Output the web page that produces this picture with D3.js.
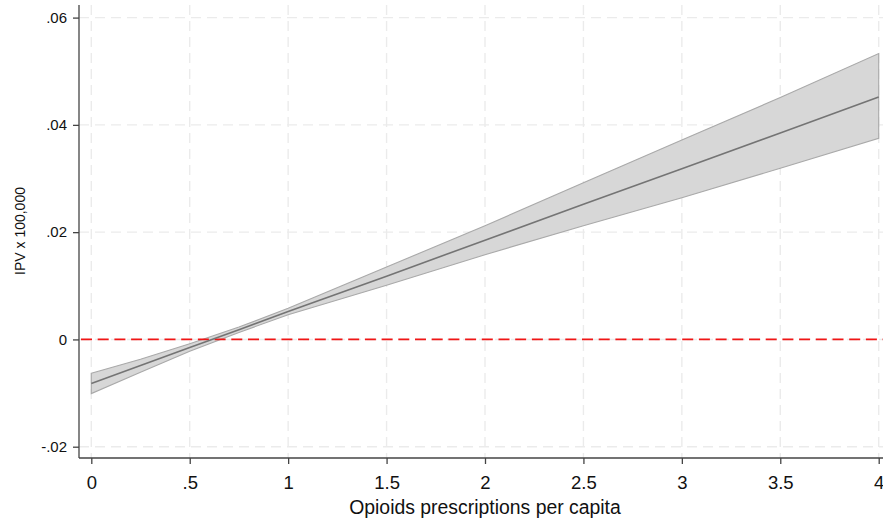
<!DOCTYPE html>
<html><head><meta charset="utf-8">
<script src="https://cdn.jsdelivr.net/npm/d3@7"></script>
<style>body{margin:0;background:#fff}svg{display:block}text{font-family:"Liberation Sans",Arial,sans-serif;fill:#111}</style>
</head><body>
<script>
const xs      = [0, 0.25, 0.5, 0.75, 1, 1.5, 2, 2.5, 3, 3.5, 4];
const center  = [-0.0082, -0.00486, -0.0015, 0.0018, 0.0052, 0.0118, 0.0185, 0.0252, 0.0318, 0.0385, 0.0452];
const upper   = [-0.0063, -0.0037, -0.0008, 0.0023, 0.0058, 0.0135, 0.0212, 0.0292, 0.0372, 0.0451, 0.0533];
const lower   = [-0.0101, -0.0061, -0.0022, 0.0013, 0.0046, 0.0101, 0.0158, 0.0212, 0.0264, 0.0319, 0.0375];
const xTicks  = [0, 0.5, 1, 1.5, 2, 2.5, 3, 3.5, 4];
const xTickLabels = ["0", ".5", "1", "1.5", "2", "2.5", "3", "3.5", "4"];
const yTicks  = [-0.02, 0, 0.02, 0.04, 0.06];
const yTickLabels = ["-.02", "0", ".02", ".04", ".06"];
const xTitle = "Opioids prescriptions per capita";
const yTitle = "IPV x 100,000";

(function () {
const W = 883, H = 523;
const svg = d3.select("body").append("svg").attr("width", W).attr("height", H);
const x = d3.scaleLinear().domain([0, 4]).range([91.3, 878.7]);
const y = d3.scaleLinear().domain([-0.02, 0.06]).range([446.7, 17.6]);
const pLeft = 79, pTop = 5, pBottom = 458, pRight = 900;

// grid
const g = svg.append("g");
g.selectAll(".vg").data(xTicks).join("line")
  .attr("x1", d => x(d)).attr("x2", d => x(d)).attr("y1", pTop).attr("y2", pBottom)
  .attr("stroke", "#ebebeb").attr("stroke-width", 1.4).attr("stroke-dasharray", "10,6");
g.selectAll(".hg").data(yTicks).join("line")
  .attr("x1", pLeft).attr("x2", pRight).attr("y1", d => y(d)).attr("y2", d => y(d))
  .attr("stroke", "#ebebeb").attr("stroke-width", 1.4).attr("stroke-dasharray", "10,6");

// band
const pts = xs.map((v, i) => ({x: v, c: center[i], lo: lower[i], hi: upper[i]}));
const area = d3.area().x(d => x(d.x)).y0(d => y(d.lo)).y1(d => y(d.hi));
svg.append("path").attr("d", area(pts) + "Z")
  .attr("fill", "#d7d7d7").attr("stroke", "#a9a9a9").attr("stroke-width", 1.1);

// reference line at 0
svg.append("line").attr("x1", pLeft + 2).attr("x2", pRight).attr("y1", y(0)).attr("y2", y(0))
  .attr("stroke", "#f01616").attr("stroke-width", 1.8).attr("stroke-dasharray", "11,5.7");

// center line
svg.append("path").datum(pts).attr("d", d3.line().x(d => x(d.x)).y(d => y(d.c)))
  .attr("fill", "none").attr("stroke", "#747474").attr("stroke-width", 1.6);

// axes
const xAxis = d3.axisBottom(x).tickValues(xTicks).tickFormat((d, i) => xTickLabels[i]).tickSize(6).tickPadding(12).tickSizeOuter(0);
const xg = svg.append("g").attr("transform", `translate(0,${pBottom})`).call(xAxis);
xg.select(".domain").remove();
xg.append("line").attr("x1", pLeft).attr("x2", pRight).attr("stroke", "#444").attr("stroke-width", 1.3);
xg.selectAll(".tick line").attr("stroke", "#444").attr("stroke-width", 1.3);
xg.selectAll(".tick text").attr("font-size", 18.5).attr("fill", "#111").style("font-family", "'Liberation Sans', Arial, sans-serif");

const yAxis = d3.axisLeft(y).tickValues(yTicks).tickFormat((d, i) => yTickLabels[i]).tickSize(6).tickPadding(6).tickSizeOuter(0);
const yg = svg.append("g").attr("transform", `translate(${pLeft},0)`).call(yAxis);
yg.select(".domain").remove();
yg.append("line").attr("y1", pTop).attr("y2", pBottom).attr("stroke", "#444").attr("stroke-width", 1.3);
yg.selectAll(".tick line").attr("stroke", "#444").attr("stroke-width", 1.3);
yg.selectAll(".tick text").attr("font-size", 15).attr("fill", "#111").style("font-family", "'Liberation Sans', Arial, sans-serif");

svg.append("text").attr("x", 485).attr("y", 514).attr("text-anchor", "middle")
  .attr("font-size", 19.4).text(xTitle);
svg.append("text").attr("transform", "translate(25,231) rotate(-90)").attr("text-anchor", "middle")
  .attr("font-size", 14).text(yTitle);
})();
</script>
</body></html>
